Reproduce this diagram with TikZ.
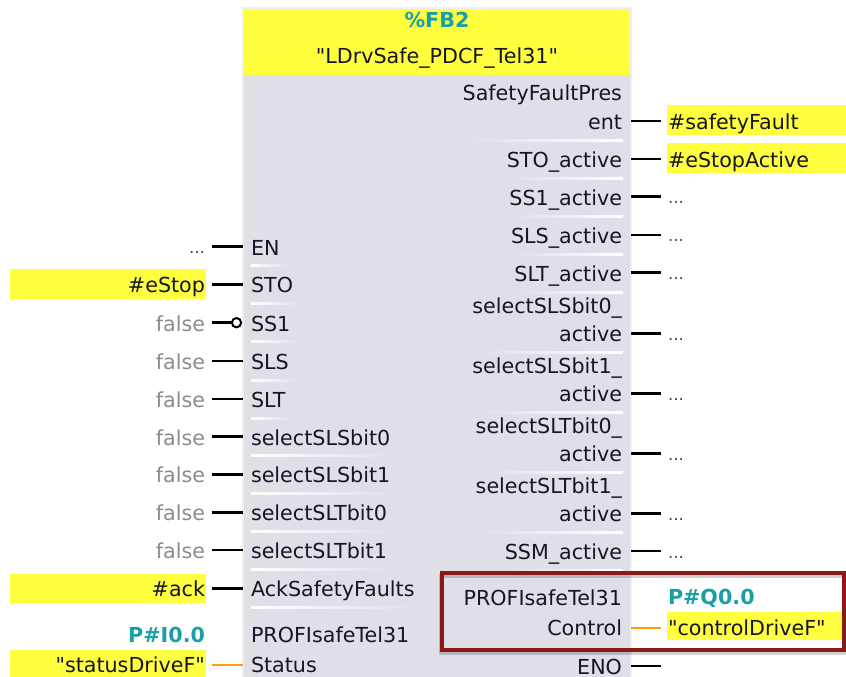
\documentclass[tikz,border=0pt]{standalone}
\usepackage{fontspec}
% plain family: straight quotation marks stay straight
\newfontfamily\blockfont{DejaVu Sans}
\usetikzlibrary{calc}
\definecolor{blockbg}{RGB}{222,223,231}
\definecolor{blockedge}{RGB}{238,238,243}
\definecolor{hiyellow}{RGB}{255,255,64}
\definecolor{addrteal}{RGB}{24,160,166}
\definecolor{constgray}{RGB}{140,140,140}
\definecolor{labelink}{RGB}{22,22,34}
\definecolor{wireorange}{RGB}{255,160,0}
\definecolor{framered}{RGB}{140,24,24}
\definecolor{dotink}{RGB}{90,70,70}
\begin{document}
\begin{tikzpicture}[x=0.75pt,y=-0.75pt,
  every node/.style={inner sep=0pt,outer sep=0pt,
    font=\blockfont\fontsize{15.5}{18}\selectfont,text=labelink},
  pinlabel/.style={anchor=base west},
  outlabel/.style={anchor=base east},
  invalue/.style={anchor=base east},
  outvalue/.style={anchor=base west},
  constval/.style={anchor=base east,text=constgray},
  dots/.style={font=\blockfont\fontsize{12.5}{14}\selectfont,text=dotink},
  addr/.style={text=addrteal,font=\blockfont\fontsize{15.5}{18}\selectfont\bfseries},
  wire/.style={line width=2.1pt,black},
  pwire/.style={line width=1.6pt,wireorange},
  hilite/.style={fill=hiyellow},
  sepL/.style={left color=white,right color=blockbg},
  sepR/.style={left color=blockbg,right color=white},
]
\useasboundingbox (0,0) rectangle (846,677);
\fill[white] (0,0) rectangle (846,677);

% function block body and header
\fill[blockbg] (243,8) rectangle (631,677);
\draw[blockedge,line width=0.8pt] (243,677) -- (243,8) -- (631,8) -- (631,677);
\fill[hiyellow] (244,9) rectangle (630,75);
\node[addr,anchor=base] (fbnum) at (437,28) {\%FB2};
\node[anchor=base] (fbname) at (437,64) {"LDrvSafe\_PDCF\_Tel31"};

% highlighted operand fields
\fill[hilite] (10,269) rectangle (206,299);
\fill[hilite] (10,574) rectangle (206,603);
\fill[hilite] (10,650) rectangle (206,677);
\fill[hilite] (667,105) rectangle (846,135);
\fill[hilite] (667,143) rectangle (846,173);
\fill[hilite] (667,612) rectangle (843,640);

% ---------------- inputs ----------------
% EN
\coordinate (srcEN) at (212,246.7); \coordinate (inEN) at (243,246.7);
\node[pinlabel] (lEN) at (251,255.2) {EN};
\node[invalue,dots] (vEN) at (205,253.5) {...};
\draw[wire] (srcEN) -- (inEN);
% STO
\coordinate (srcSTO) at (212,284.3); \coordinate (inSTO) at (243,284.3);
\node[pinlabel] (lSTO) at (251,292.8) {STO};
\node[invalue] (vSTO) at (205,292.8) {\#eStop};
\draw[wire] (srcSTO) -- (inSTO);
% SS1 (negated input)
\coordinate (srcSS1) at (212,322.7); \coordinate (inSS1) at (243,322.7);
\node[pinlabel] (lSS1) at (251,331.2) {SS1};
\node[constval] (vSS1) at (205,331.2) {false};
\node[circle,draw=black,line width=1.5pt,fill=white,minimum size=7pt] (negSS1) at (236.5,322.7) {};
\draw[wire] (srcSS1) -- (negSS1);
% boolean inputs fed with false
\foreach \nm/\yy/\txt in {SLS/361/SLS, SLT/399/SLT,
    sSb0/436.7/selectSLSbit0, sSb1/474.3/selectSLSbit1,
    sTb0/512.3/selectSLTbit0, sTb1/550/selectSLTbit1} {
  \coordinate (src\nm) at (212,\yy);
  \coordinate (in\nm) at (243,\yy);
  \node[pinlabel] (l\nm) at (251,{\yy+8.5}) {\txt};
  \node[constval] (v\nm) at (205,{\yy+8.5}) {false};
  \draw[wire] (src\nm) -- (in\nm);
}
% AckSafetyFaults
\coordinate (srcAck) at (212,588.3); \coordinate (inAck) at (243,588.3);
\node[pinlabel] (lAck) at (251,596.8) {AckSafetyFaults};
\node[invalue] (vAck) at (205,596.8) {\#ack};
\draw[wire] (srcAck) -- (inAck);
% PROFIsafe status telegram
\coordinate (srcSt) at (212,665); \coordinate (inSt) at (243,665);
\node[pinlabel] (lSt1) at (251,642) {PROFIsafeTel31};
\node[pinlabel] (lSt2) at (251,672.5) {Status};
\node[invalue,addr] (aSt) at (205,642) {P\#I0.0};
\node[invalue] (vSt) at (205,672.5) {"statusDriveF"};
\draw[pwire] (srcSt) -- (inSt);

% separators under the input names
\foreach \nm in {EN,STO,SS1,SLS,SLT,sSb0,sSb1,sTb0,sTb1,Ack} {
  \shade[sepL] ($(l\nm.base west)+(0,9.5)$) rectangle ($(l\nm.base east)+(8,11.5)$);
}

% ---------------- outputs ----------------
% single-line outputs
\foreach \nm/\yy/\txt in {STOa/159/STO\_active, SS1a/196.7/SS1\_active,
    SLSa/235/SLS\_active, SLTa/272.7/SLT\_active, SSMa/551/SSM\_active} {
  \coordinate (out\nm) at (631,\yy);
  \coordinate (dst\nm) at (661,\yy);
  \node[outlabel] (r\nm) at (622,{\yy+8.5}) {\txt};
  \draw[wire] (out\nm) -- (dst\nm);
  \shade[sepR] ($(r\nm.base west)+(0,10)$) rectangle ($(r\nm.base east)+(1,12)$);
}
% two-line outputs
\foreach \nm/\yy/\ta in {SFP/121/SafetyFaultPres, b0/333.3/selectSLSbit0\_,
    b1/393.3/selectSLSbit1\_, b2/453.3/selectSLTbit0\_, b3/513.3/selectSLTbit1\_} {
  \coordinate (out\nm) at (631,\yy);
  \coordinate (dst\nm) at (661,\yy);
  \node[outlabel] (r\nm top) at (622,{\yy+8.5-28.5}) {\ta};
  \draw[wire] (out\nm) -- (dst\nm);
}
\node[outlabel] (rSFP) at (622,129.5) {ent};
\node[outlabel] (rb0) at (622,341.8) {active};
\node[outlabel] (rb1) at (622,401.8) {active};
\node[outlabel] (rb2) at (622,461.8) {active};
\node[outlabel] (rb3) at (622,521.8) {active};
\foreach \nm in {SFP,b0,b1,b2,b3} {
  \shade[sepR] ($(r\nm top.base west |- r\nm.base)+(0,10)$) rectangle ($(r\nm.base east)+(1,12)$);
}

% output operands
\node[outvalue] (wSFP) at (668,129.5) {\#safetyFault};
\node[outvalue] (wSTOa) at (668,167.5) {\#eStopActive};
\foreach \nm/\yy in {SS1a/196.7, SLSa/235, SLTa/272.7, b0/333.3, b1/393.3,
    b2/453.3, b3/513.3, SSMa/551} {
  \node[outvalue,dots] (w\nm) at (668,{\yy+7}) {...};
}

% PROFIsafe control telegram
\coordinate (outCtl) at (631,627.7); \coordinate (dstCtl) at (661,627.7);
\node[outlabel] (rCtl1) at (622,605) {PROFIsafeTel31};
\node[outlabel] (rCtl2) at (622,635.5) {Control};
\node[outvalue,addr] (aCtl) at (668,604) {P\#Q0.0};
\node[outvalue] (wCtl) at (668,635.5) {"controlDriveF"};
\draw[pwire] (outCtl) -- (dstCtl);

% ENO
\coordinate (outENO) at (631,666); \coordinate (dstENO) at (661,666);
\node[outlabel] (rENO) at (622,674) {ENO};
\draw[wire] (outENO) -- (dstENO);

% marking frame round the control telegram
\draw[black,opacity=0.18,line width=3pt] (441,576) rectangle (845,653);
\draw[framered,line width=2.3pt] (442,573) rectangle (844,650);
\end{tikzpicture}
\end{document}
